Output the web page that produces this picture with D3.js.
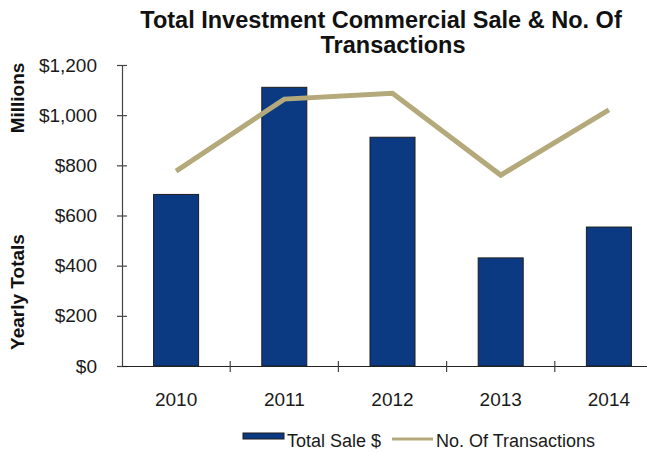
<!DOCTYPE html>
<html>
<head>
<meta charset="utf-8">
<script src="https://cdn.jsdelivr.net/npm/d3@7"></script>
<style>
  html, body { margin: 0; padding: 0; background: #fff; }
  svg { display: block; font-family: "Liberation Sans", Arial, sans-serif; }
</style>
</head>
<body>
<svg id="chart" width="647" height="453"></svg>
<script>
// Yearly commercial investment data
const years = ["2010", "2011", "2012", "2013", "2014"];
const totalSale = [684, 1111, 912, 431, 554];          // $ millions
const transactions = [777, 1064, 1087, 761, 1021];     // plotted on the same axis
const yTicks = [0, 200, 400, 600, 800, 1000, 1200];
const titleLines = ["Total Investment Commercial Sale & No. Of", "Transactions"];
const legendLabels = ["Total Sale $", "No. Of Transactions"];

const barColor = "#0b3a82";
const lineColor = "#b3a97a";
const textColor = "#1a1a1a";

const svg = d3.select("#chart");

const plot = { left: 122, right: 663, top: 65, bottom: 366 };

const x = d3.scaleBand()
  .domain(years)
  .range([plot.left, plot.right])
  .paddingInner(0.584)
  .paddingOuter(0.292);

const y = d3.scaleLinear()
  .domain([0, 1200])
  .range([plot.bottom, plot.top]);

// Title (two lines, second line sits slightly right of the first)
const titleX = [381, 393];
svg.append("g").selectAll("text")
  .data(titleLines)
  .join("text")
  .attr("x", (d, i) => titleX[i])
  .attr("y", (d, i) => 28 + i * 25)
  .attr("text-anchor", "middle")
  .attr("font-size", 23.5)
  .attr("font-weight", "bold")
  .attr("fill", "#111")
  .text(d => d);

// Bars
svg.append("g").selectAll("rect")
  .data(years)
  .join("rect")
  .attr("x", d => x(d))
  .attr("y", (d, i) => y(totalSale[i]))
  .attr("width", x.bandwidth())
  .attr("height", (d, i) => y(0) - y(totalSale[i]))
  .attr("fill", barColor)
  .attr("stroke", "#1c1c1c")
  .attr("stroke-width", 1);

// Transactions line
const line = d3.line()
  .x((d, i) => x(years[i]) + x.bandwidth() / 2)
  .y(d => y(d));

svg.append("path")
  .datum(transactions)
  .attr("d", line)
  .attr("fill", "none")
  .attr("stroke", lineColor)
  .attr("stroke-width", 5)
  .attr("stroke-linejoin", "miter");

// Y axis
const yAxis = d3.axisLeft(y)
  .tickValues(yTicks)
  .tickSize(0)
  .tickPadding(25)
  .tickFormat(d => "$" + d3.format(",")(d));

const yg = svg.append("g")
  .attr("transform", `translate(${plot.left},0)`)
  .call(yAxis);
yg.select(".domain").attr("stroke", "#444").attr("stroke-width", 1.2);
yg.selectAll(".tick text")
  .attr("font-size", 19)
  .attr("fill", textColor)
  .attr("font-family", "Liberation Sans, Arial, sans-serif");
// crossing tick marks
yg.selectAll(".tick").append("line")
  .attr("x1", -5).attr("x2", 5)
  .attr("stroke", "#444").attr("stroke-width", 1.2);

// X axis
const xAxis = d3.axisBottom(x).tickSize(0).tickPadding(27);
const xg = svg.append("g")
  .attr("transform", `translate(0,${plot.bottom})`)
  .call(xAxis);
xg.select(".domain").attr("stroke", "#222").attr("stroke-width", 1.2);
xg.selectAll(".tick text")
  .attr("font-size", 19)
  .attr("fill", textColor)
  .attr("font-family", "Liberation Sans, Arial, sans-serif");

// category separator ticks
const step = x.step();
xg.append("g").selectAll("line")
  .data(years.slice(1))
  .join("line")
  .attr("x1", d => x(d) - step * x.paddingInner() / 2)
  .attr("x2", d => x(d) - step * x.paddingInner() / 2)
  .attr("y1", -5).attr("y2", 6)
  .attr("stroke", "#444").attr("stroke-width", 1.2);

// Y axis titles
svg.append("text")
  .attr("transform", "translate(24,98) rotate(-90)")
  .attr("text-anchor", "middle")
  .attr("font-size", 19)
  .attr("font-weight", "bold")
  .attr("fill", "#111")
  .text("Millions");
svg.append("text")
  .attr("transform", "translate(24,292) rotate(-90)")
  .attr("text-anchor", "middle")
  .attr("font-size", 19)
  .attr("font-weight", "bold")
  .attr("fill", "#111")
  .text("Yearly Totals");

// Legend
const lg = svg.append("g");
lg.append("rect")
  .attr("x", 243).attr("y", 433)
  .attr("width", 41).attr("height", 6)
  .attr("fill", barColor)
  .attr("stroke", "#1c1c1c").attr("stroke-width", 1);
lg.append("text")
  .attr("x", 287).attr("y", 447)
  .attr("font-size", 18).attr("fill", textColor)
  .text(legendLabels[0]);
lg.append("line")
  .attr("x1", 392).attr("x2", 433)
  .attr("y1", 439).attr("y2", 439)
  .attr("stroke", lineColor).attr("stroke-width", 3);
lg.append("text")
  .attr("x", 436).attr("y", 447)
  .attr("font-size", 18).attr("fill", textColor)
  .text(legendLabels[1]);
</script>
</body>
</html>
